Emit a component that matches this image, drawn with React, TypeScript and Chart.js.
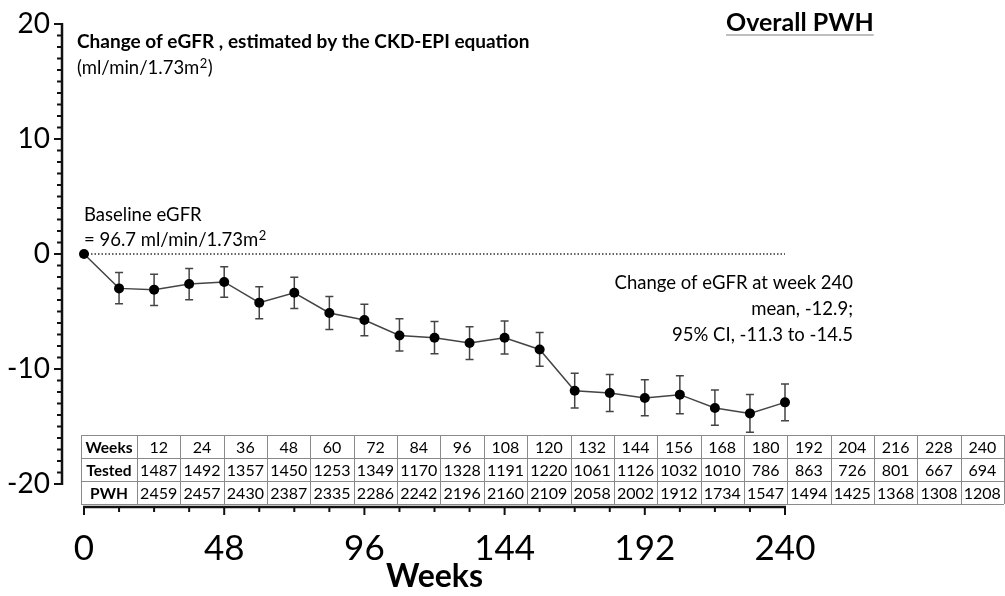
import React, { useEffect, useRef } from "react";
import { Chart, registerables } from "chart.js";

Chart.register(...registerables);

// ---- data ----
const weeks = [0, 12, 24, 36, 48, 60, 72, 84, 96, 108, 120, 132, 144, 156, 168, 180, 192, 204, 216, 228, 240];
const meanChange = [0, -2.99, -3.1, -2.61, -2.43, -4.23, -3.37, -5.13, -5.74, -7.08, -7.28, -7.74, -7.28, -8.3, -11.89, -12.09, -12.52, -12.23, -13.39, -13.86, -12.9];
const ciUpper = [0, -1.6, -1.77, -1.25, -1.1, -2.84, -2.03, -3.69, -4.38, -5.63, -5.86, -6.32, -5.83, -6.82, -10.38, -10.47, -10.93, -10.58, -11.83, -12.21, -11.3];
const ciLower = [0, -4.32, -4.47, -3.97, -3.77, -5.63, -4.73, -6.56, -7.1, -8.43, -8.67, -9.17, -8.7, -9.77, -13.39, -13.69, -14.06, -13.89, -14.9, -15.51, -14.5];

const tableWeeks = [12, 24, 36, 48, 60, 72, 84, 96, 108, 120, 132, 144, 156, 168, 180, 192, 204, 216, 228, 240];
const testedCounts = [1487, 1492, 1357, 1450, 1253, 1349, 1170, 1328, 1191, 1220, 1061, 1126, 1032, 1010, 786, 863, 726, 801, 667, 694];
const pwhCounts = [2459, 2457, 2430, 2387, 2335, 2286, 2242, 2196, 2160, 2109, 2058, 2002, 1912, 1734, 1547, 1494, 1425, 1368, 1308, 1208];
const tableRowLabels = ["Weeks", "Tested", "PWH"];

const yMin = -20;
const yMax = 20;
const yMajorStep = 10;
const yMinorStep = 1;
const xMin = 0;
const xMax = 240;
const xMajorStep = 48;
const xMinorStep = 12;

const titleText = "Change of eGFR , estimated by the CKD-EPI equation";
const unitText = "(ml/min/1.73m";
const baselineLine1 = "Baseline eGFR";
const baselineLine2 = "= 96.7 ml/min/1.73m";
const noteLines = ["Change of eGFR at week 240", "mean, -12.9;", "95% CI, -11.3 to -14.5"];
const cornerTitle = "Overall PWH";
const xAxisTitle = "Weeks";

const SANS = "Lato, 'Open Sans', sans-serif";

const decorPlugin = {
  id: "decor",
  beforeDatasetsDraw(chart: any) {
    const ctx = chart.ctx;
    const xs = chart.scales.x;
    const ys = chart.scales.y;
    ctx.save();
    // zero dotted reference line
    ctx.strokeStyle = "#333";
    ctx.lineWidth = 1.3;
    ctx.setLineDash([1.5, 2]);
    ctx.beginPath();
    const y0 = ys.getPixelForValue(0);
    ctx.moveTo(xs.getPixelForValue(xMin), y0);
    ctx.lineTo(xs.getPixelForValue(xMax), y0);
    ctx.stroke();
    ctx.setLineDash([]);

    // y axis (offset to the left)
    const axisX = 62;
    ctx.strokeStyle = "#111";
    ctx.lineWidth = 2.5;
    ctx.beginPath();
    ctx.moveTo(axisX, ys.getPixelForValue(yMax) - 1);
    ctx.lineTo(axisX, ys.getPixelForValue(yMin) + 1);
    ctx.stroke();
    ctx.lineWidth = 2;
    for (let v = yMin; v <= yMax; v += yMinorStep) {
      const py = ys.getPixelForValue(v);
      const len = v % yMajorStep === 0 ? 8 : 5;
      ctx.beginPath();
      ctx.moveTo(axisX, py);
      ctx.lineTo(axisX - len, py);
      ctx.stroke();
    }

    // x axis (offset below)
    const axisY = 507;
    ctx.lineWidth = 2.5;
    ctx.beginPath();
    ctx.moveTo(xs.getPixelForValue(xMin) - 1, axisY);
    ctx.lineTo(xs.getPixelForValue(xMax) + 1, axisY);
    ctx.stroke();
    ctx.lineWidth = 2;
    for (let v = xMin; v <= xMax; v += xMinorStep) {
      const px = xs.getPixelForValue(v);
      const len = v % xMajorStep === 0 ? 8 : 5;
      ctx.beginPath();
      ctx.moveTo(px, axisY);
      ctx.lineTo(px, axisY + len);
      ctx.stroke();
    }

    // error bars
    ctx.strokeStyle = "#444";
    ctx.lineWidth = 1.5;
    for (let i = 0; i < weeks.length; i++) {
      if (ciUpper[i] === ciLower[i]) continue;
      const px = xs.getPixelForValue(weeks[i]);
      const pu = ys.getPixelForValue(ciUpper[i]);
      const pl = ys.getPixelForValue(ciLower[i]);
      ctx.beginPath();
      ctx.moveTo(px, pu);
      ctx.lineTo(px, pl);
      ctx.moveTo(px - 4, pu);
      ctx.lineTo(px + 4, pu);
      ctx.moveTo(px - 4, pl);
      ctx.lineTo(px + 4, pl);
      ctx.stroke();
    }
    ctx.restore();
  },
  afterDraw(chart: any) {
    const ctx = chart.ctx;
    ctx.save();
    ctx.fillStyle = "#000";
    ctx.textBaseline = "middle";

    // top-left title
    ctx.textAlign = "left";
    ctx.font = `bold 19px ${SANS}`;
    ctx.fillText(titleText, 77, 42);
    ctx.font = `18.5px ${SANS}`;
    ctx.fillText(unitText, 77, 68);
    let w = ctx.measureText(unitText).width;
    ctx.font = `13px ${SANS}`;
    ctx.fillText("2", 77 + w + 0.5, 64);
    const w2 = ctx.measureText("2").width;
    ctx.font = `18.5px ${SANS}`;
    ctx.fillText(")", 77 + w + w2 + 1, 68);

    // baseline annotation
    ctx.font = `18.5px ${SANS}`;
    ctx.fillText(baselineLine1, 84, 215);
    ctx.fillText(baselineLine2, 84, 240);
    w = ctx.measureText(baselineLine2).width;
    ctx.font = `13px ${SANS}`;
    ctx.fillText("2", 84 + w + 0.5, 236);

    // week 240 note
    ctx.font = `18.5px ${SANS}`;
    ctx.textAlign = "right";
    ctx.fillText(noteLines[0], 853, 283);
    ctx.fillText(noteLines[1], 853, 309);
    ctx.fillText(noteLines[2], 853, 335);

    // corner title
    ctx.textAlign = "left";
    ctx.font = `bold 25px ${SANS}`;
    ctx.fillText(cornerTitle, 726, 23);
    const cw = ctx.measureText(cornerTitle).width;
    ctx.strokeStyle = "#aaa";
    ctx.lineWidth = 1.5;
    ctx.beginPath();
    ctx.moveTo(726, 35);
    ctx.lineTo(726 + cw, 35);
    ctx.stroke();

    // table
    const tLeft = 81;
    const headW = 56;
    const colW = 43.35;
    const tTop = 435;
    const rowH = 23;
    const nCols = tableWeeks.length;
    const tRight = tLeft + headW + colW * nCols;
    ctx.fillStyle = "#fff";
    ctx.fillRect(tLeft, tTop, tRight - tLeft, rowH * 3);
    ctx.strokeStyle = "#8a8a8a";
    ctx.lineWidth = 1;
    ctx.beginPath();
    for (let r = 0; r <= 3; r++) {
      const yy = Math.round(tTop + r * rowH) + 0.5;
      ctx.moveTo(tLeft, yy);
      ctx.lineTo(tRight, yy);
    }
    const colEdges = [tLeft];
    for (let c = 0; c <= nCols; c++) colEdges.push(tLeft + headW + c * colW);
    for (const cx of colEdges) {
      const xx = Math.round(cx) + 0.5;
      ctx.moveTo(xx, tTop);
      ctx.lineTo(xx, tTop + rowH * 3);
    }
    ctx.stroke();
    ctx.fillStyle = "#000";
    ctx.textAlign = "center";
    const rows = [tableWeeks, testedCounts, pwhCounts];
    for (let r = 0; r < 3; r++) {
      const cy = tTop + r * rowH + rowH / 2 + 1;
      ctx.font = `bold 15.5px ${SANS}`;
      ctx.fillText(tableRowLabels[r], tLeft + headW / 2, cy);
      ctx.font = `16px ${SANS}`;
      for (let c = 0; c < nCols; c++) {
        ctx.fillText(String(rows[r][c]), tLeft + headW + c * colW + colW / 2, cy);
      }
    }
    ctx.restore();
  },
};

export default function App() {
  const canvasRef = useRef<HTMLCanvasElement | null>(null);

  useEffect(() => {
    if (!canvasRef.current) return;
    const chart = new Chart(canvasRef.current, {
      type: "line",
      data: {
        datasets: [
          {
            label: "Change of eGFR",
            data: weeks.map((wk, i) => ({ x: wk, y: meanChange[i] })),
            borderColor: "#444",
            borderWidth: 1.5,
            pointRadius: 5,
            pointBackgroundColor: "#000",
            pointBorderColor: "#000",
            pointBorderWidth: 0,
            tension: 0,
            clip: false,
          } as any,
        ],
      },
      options: {
        responsive: false,
        animation: false,
        devicePixelRatio: 1,
        layout: { padding: { top: 24, right: 220, left: 0, bottom: 0 } },
        plugins: {
          legend: { display: false },
          tooltip: { enabled: false },
          title: { display: false },
        },
        scales: {
          x: {
            type: "linear",
            min: xMin,
            max: xMax,
            border: { display: false },
            grid: { display: false, drawTicks: false },
            ticks: {
              stepSize: xMajorStep,
              color: "#000",
              padding: 44,
              maxRotation: 0,
              font: { family: SANS, size: 35 },
            },
            title: {
              display: true,
              text: xAxisTitle,
              color: "#000",
              font: { family: SANS, size: 32, weight: "bold" },
              padding: { top: 0, bottom: 0 },
            },
            afterFit: (s: any) => {
              s.height = 112;
              s.paddingLeft = 0;
              s.paddingRight = 0;
            },
          },
          y: {
            type: "linear",
            min: yMin,
            max: yMax,
            border: { display: false },
            grid: { display: false, drawTicks: false },
            ticks: {
              stepSize: yMajorStep,
              color: "#000",
              padding: 34,
              font: { family: SANS, size: 28 },
            },
            afterFit: (s: any) => {
              s.width = 84;
              s.paddingTop = 0;
              s.paddingBottom = 0;
            },
          },
        },
      },
      plugins: [decorPlugin],
    });
    return () => chart.destroy();
  }, []);

  return (
    <div style={{ position: "absolute", left: 0, top: 0, width: 1005, height: 596, background: "#fff" }}>
      <canvas ref={canvasRef} width={1005} height={596} style={{ display: "block" }} />
    </div>
  );
}
